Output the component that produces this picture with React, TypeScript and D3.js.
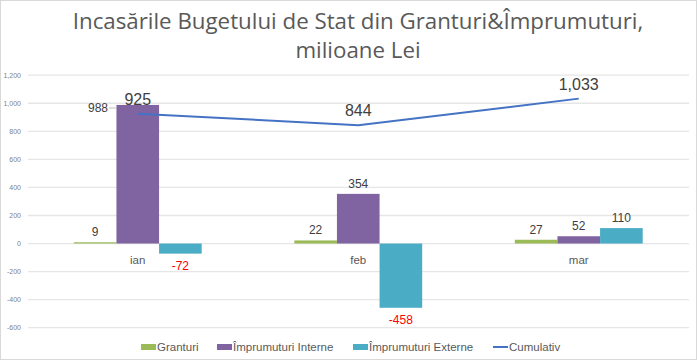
import React from "react";
import * as d3 from "d3";

const categories = ["ian", "feb", "mar"];
const granturi = [9, 22, 27];
const imprInterne = [988, 354, 52];
const imprExterne = [-72, -458, 110];
const cumulativ = [925, 844, 1033];
const yTicks = [-600, -400, -200, 0, 200, 400, 600, 800, 1000, 1200];
const seriesNames = ["Granturi", "Împrumuturi Interne", "Împrumuturi Externe", "Cumulativ"];
const colors = ["#9BBB59", "#8064A2", "#4BACC6", "#4472C4"];

const W = 698, H = 361;
const FONT = "'Liberation Sans', Arial, sans-serif";

export default function App() {
  const x = d3.scaleBand().domain(categories).range([27.5, 689]).paddingInner(0.42).paddingOuter(0.21);
  const y = d3.scaleLinear().domain([-600, 1200]).range([327.7, 75.2]);
  const bx = d3.scaleBand().domain(["g", "i", "e"]).range([0, x.bandwidth()]);
  const series = [granturi, imprInterne, imprExterne];
  const keys = ["g", "i", "e"];
  const locale = d3.formatLocale({ decimal: ".", thousands: ",", grouping: [3], currency: ["", ""], minus: "-" });
  const fmt = locale.format(",");
  const cx = (c: string) => (x(c) as number) + x.bandwidth() / 2;
  const line = d3.line<number>().x((_, i) => cx(categories[i])).y((d) => y(d));

  return (
    <svg width={W} height={H} style={{ position: "absolute", left: 0, top: 0 }} fontFamily={FONT}>
      <rect x={0.5} y={0.5} width={W - 2} height={H - 2} fill="#fff" stroke="#d9d9d9" />
      <text x={358} y={29} textAnchor="middle" fontSize={22.3} fill="#595959" fontFamily="'Open Sans', sans-serif">
        Incasările Bugetului de Stat din Granturi&amp;Împrumuturi,
      </text>
      <text x={358} y={58} textAnchor="middle" fontSize={22.3} fill="#595959" fontFamily="'Open Sans', sans-serif">
        milioane Lei
      </text>
      {yTicks.map((t) => (
        <g key={t}>
          <line x1={28} x2={689} y1={y(t)} y2={y(t)} stroke="#e6e6e6" strokeWidth={1.3} />
          <text x={21} y={y(t) + 2.5} textAnchor="end" fontSize={7} fill="#7f7f7f">
            {fmt(t)}
          </text>
        </g>
      ))}
      {series.map((s, si) =>
        s.map((v, i) => {
          const c = categories[i];
          const x0 = (x(c) as number) + (bx(keys[si]) as number);
          return (
            <rect
              key={si + "-" + i}
              x={x0}
              width={bx.bandwidth()}
              y={Math.min(y(v), y(0))}
              height={Math.max(Math.abs(y(v) - y(0)), 1)}
              fill={colors[si]}
            />
          );
        })
      )}
      {categories.map((c) => (
        <text key={c} x={cx(c)} y={264} textAnchor="middle" fontSize={11.5} fill="#595959">
          {c}
        </text>
      ))}
      {series.map((s, si) =>
        s.map((v, i) => {
          const c = categories[i];
          const xc = (x(c) as number) + (bx(keys[si]) as number) + bx.bandwidth() / 2;
          if (si === 1 && i === 0) {
            return (
              <g key={"l" + si + i}>
                <text x={108} y={112} textAnchor="end" fontSize={12} fill="#404040">{fmt(v)}</text>
                <line x1={109} x2={117} y1={108} y2={108} stroke="#bfbfbf" />
              </g>
            );
          }
          const neg = v < 0;
          return (
            <text
              key={"l" + si + i}
              x={xc}
              y={neg ? y(v) + 16 : y(v) - 6}
              textAnchor="middle"
              fontSize={12}
              fill={neg ? "#ff0000" : "#404040"}
            >
              {fmt(v)}
            </text>
          );
        })
      )}
      <path d={line(cumulativ) || ""} fill="none" stroke={colors[3]} strokeWidth={2} />
      {cumulativ.map((v, i) => (
        <text key={"c" + i} x={cx(categories[i])} y={y(v) - 9} textAnchor="middle" fontSize={16} fill="#404040">
          {fmt(v)}
        </text>
      ))}
      {[
        { x: 141, t: 0 },
        { x: 217, t: 1 },
        { x: 353, t: 2 },
        { x: 493, t: 3 },
      ].map(({ x: lx, t }) => (
        <g key={"lg" + t}>
          {t < 3 ? (
            <rect x={lx} y={344} width={15} height={6} fill={colors[t]} />
          ) : (
            <line x1={lx} x2={lx + 15} y1={347} y2={347} stroke={colors[t]} strokeWidth={2} />
          )}
          <text x={lx + 16} y={351} fontSize={11.5} fill="#595959">
            {seriesNames[t]}
          </text>
        </g>
      ))}
    </svg>
  );
}
